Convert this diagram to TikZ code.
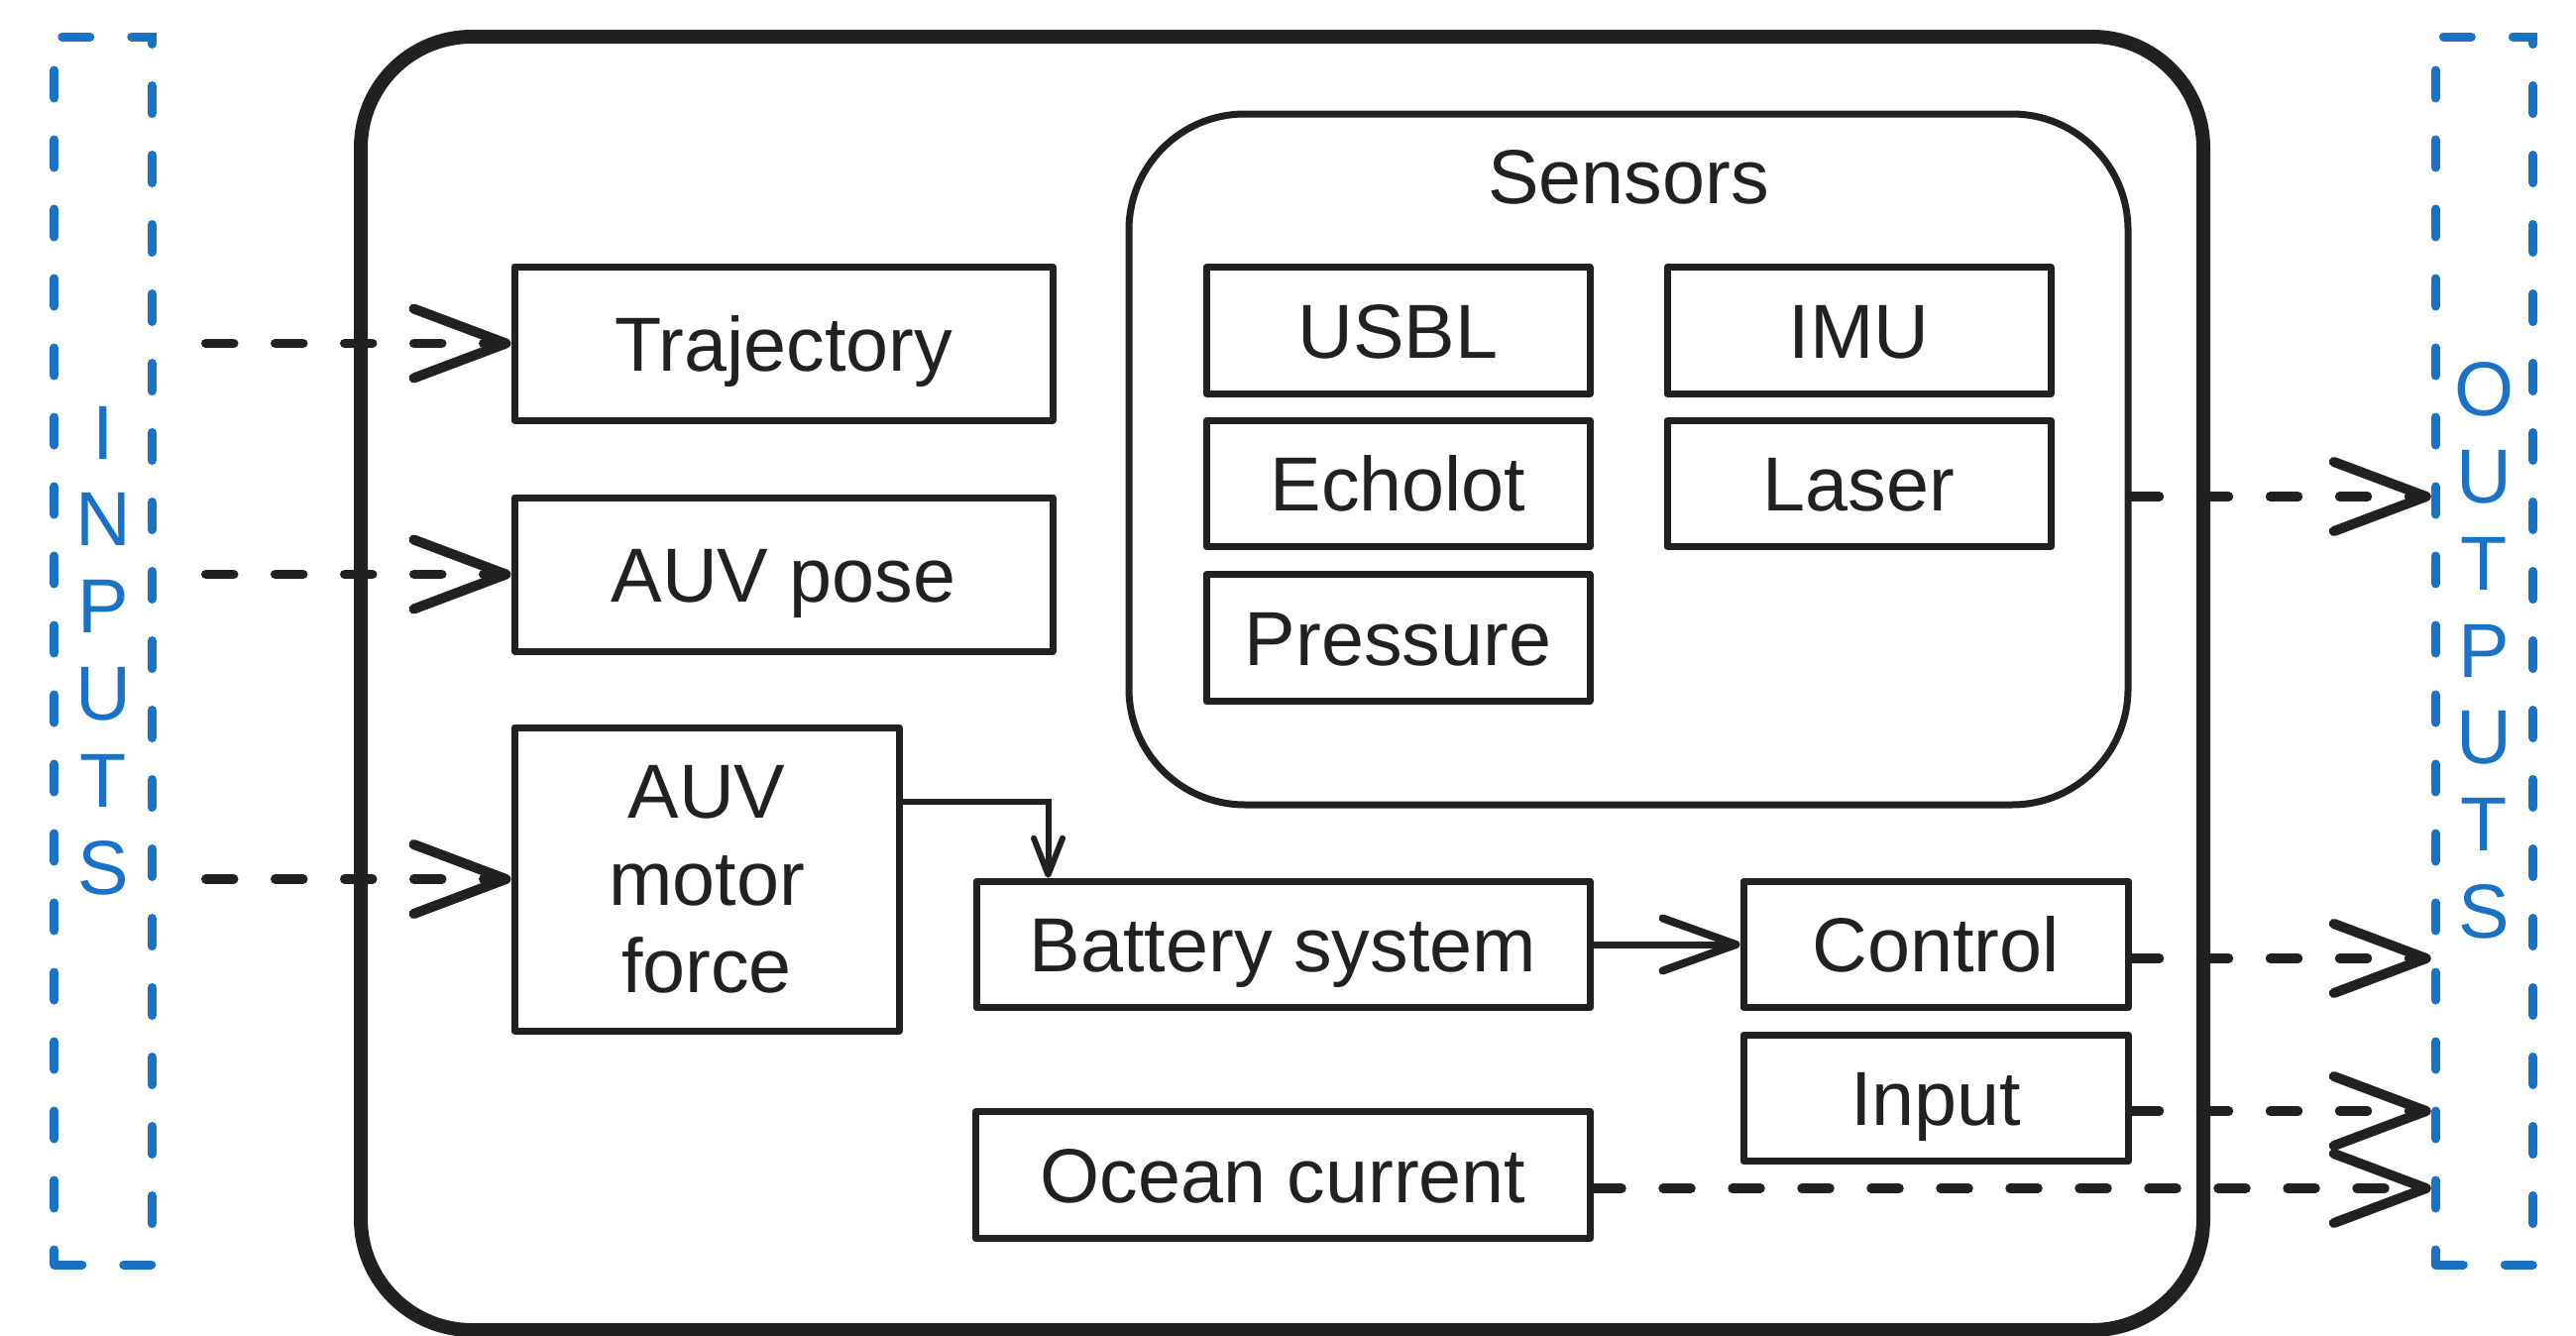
\documentclass[tikz,border=0pt]{standalone}
\usepackage{fontspec}
\setmainfont{Liberation Sans}
\usetikzlibrary{arrows.meta}
\definecolor{ink}{RGB}{33,33,33}
\definecolor{ioblue}{RGB}{25,114,196}

\begin{document}
\begin{tikzpicture}[x=0.1mm, y=-0.1mm,
  font=\fontsize{22}{25}\selectfont, text=ink,
  box/.style={draw=ink, line width=.7mm, line join=round, inner sep=0pt},
  blk/.style={box, minimum height=12.75mm, text height=5.5mm, text depth=0pt},
  iobox/.style={draw=ioblue, text=ioblue, line width=.9mm, dash pattern=on 2.8mm off 4.2mm,
    line cap=round, minimum width=9.85mm, minimum height=123.9mm, inner sep=0pt, align=center},
  dasharr/.style={draw=ink, line width=.95mm, dash pattern=on 2.8mm off 4.2mm, line cap=round,
    -{Straight Barb[round, length=9.3mm, width=7mm, line width=1mm]}},
  solidarr/.style={draw=ink, line width=.7mm, -{Straight Barb[round, length=7.4mm, width=5.3mm, line width=.8mm]}},
  smallarr/.style={draw=ink, line width=.6mm, -{Straight Barb[round, length=3.7mm, width=2.9mm]}}]
\useasboundingbox (0,0) rectangle (2599,1347);

% model border
\node[draw=ink, line width=1.4mm, rounded corners=11.2mm, minimum width=185.9mm, minimum height=130.5mm] (sys) at (1293.5,689.5) {};

\node[iobox] (inbox) at (104,656.5) {I\\N\\P\\U\\T\\S};
\node[iobox] (outbox) at (2506.5,656.5) {O\\U\\T\\P\\U\\T\\S};

\node[blk, minimum width=54.3mm, minimum height=15.5mm] (traj) at (790.5,346.5) {Trajectory};
\node[blk, minimum width=54.3mm, minimum height=15.5mm] (pose) at (790.5,579.5) {AUV pose};
\node[box, minimum width=38.8mm, minimum height=30.6mm, align=center] (motor) at (713,887) {AUV\\motor\\force};

% sensor group
\node[draw=ink, line width=.7mm, rounded corners=11.7mm, minimum width=100.8mm, minimum height=69.7mm] (sens) at (1643,463.5) {};
\node[anchor=base] (senstitle) at (1643,205) {Sensors};
\node[blk, minimum width=38.7mm] (usbl) at (1410.5,333.5) {USBL};
\node[blk, minimum width=38.7mm] (imu) at (1875.5,333.5) {IMU};
\node[blk, minimum width=38.7mm] (echo) at (1410.5,488) {Echolot};
\node[blk, minimum width=38.7mm] (laser) at (1875.5,488) {Laser};
\node[blk, minimum width=38.7mm] (press) at (1410.5,643.5) {Pressure};

\node[blk, minimum width=61.9mm] (bat) at (1294.5,953) {Battery system};
\node[blk, minimum width=38.8mm] (ctrl) at (1953,953) {Control};
\node[blk, minimum width=38.8mm] (inp) at (1953,1108) {Input};
\node[blk, minimum width=62mm] (ocean) at (1294.5,1185.5) {Ocean current};

% inputs
\path ([xshift=5mm]inbox.east |- traj) edge[dasharr] (traj);
\path ([xshift=5mm]inbox.east |- pose) edge[dasharr] (pose);
\path ([xshift=5mm]inbox.east |- motor) edge[dasharr] (motor);

\draw[smallarr] ([yshift=-7.8mm]motor.north east) -| ([xshift=7.6mm]bat.north west);
\path (bat) edge[solidarr] (ctrl);

% outputs
\draw[dasharr] ([yshift=-3.75mm]sens.east) coordinate (so) -- (so -| outbox.west);
\draw[dasharr] ([yshift=-1.4mm]ctrl.east) coordinate (co) -- (co -| outbox.west);
\draw[dasharr] ([yshift=-1.3mm]inp.east) coordinate (io) -- (io -| outbox.west);
\draw[dasharr] ([yshift=-1.35mm]ocean.east) coordinate (oo) -- (oo -| outbox.west);
\end{tikzpicture}
\end{document}
